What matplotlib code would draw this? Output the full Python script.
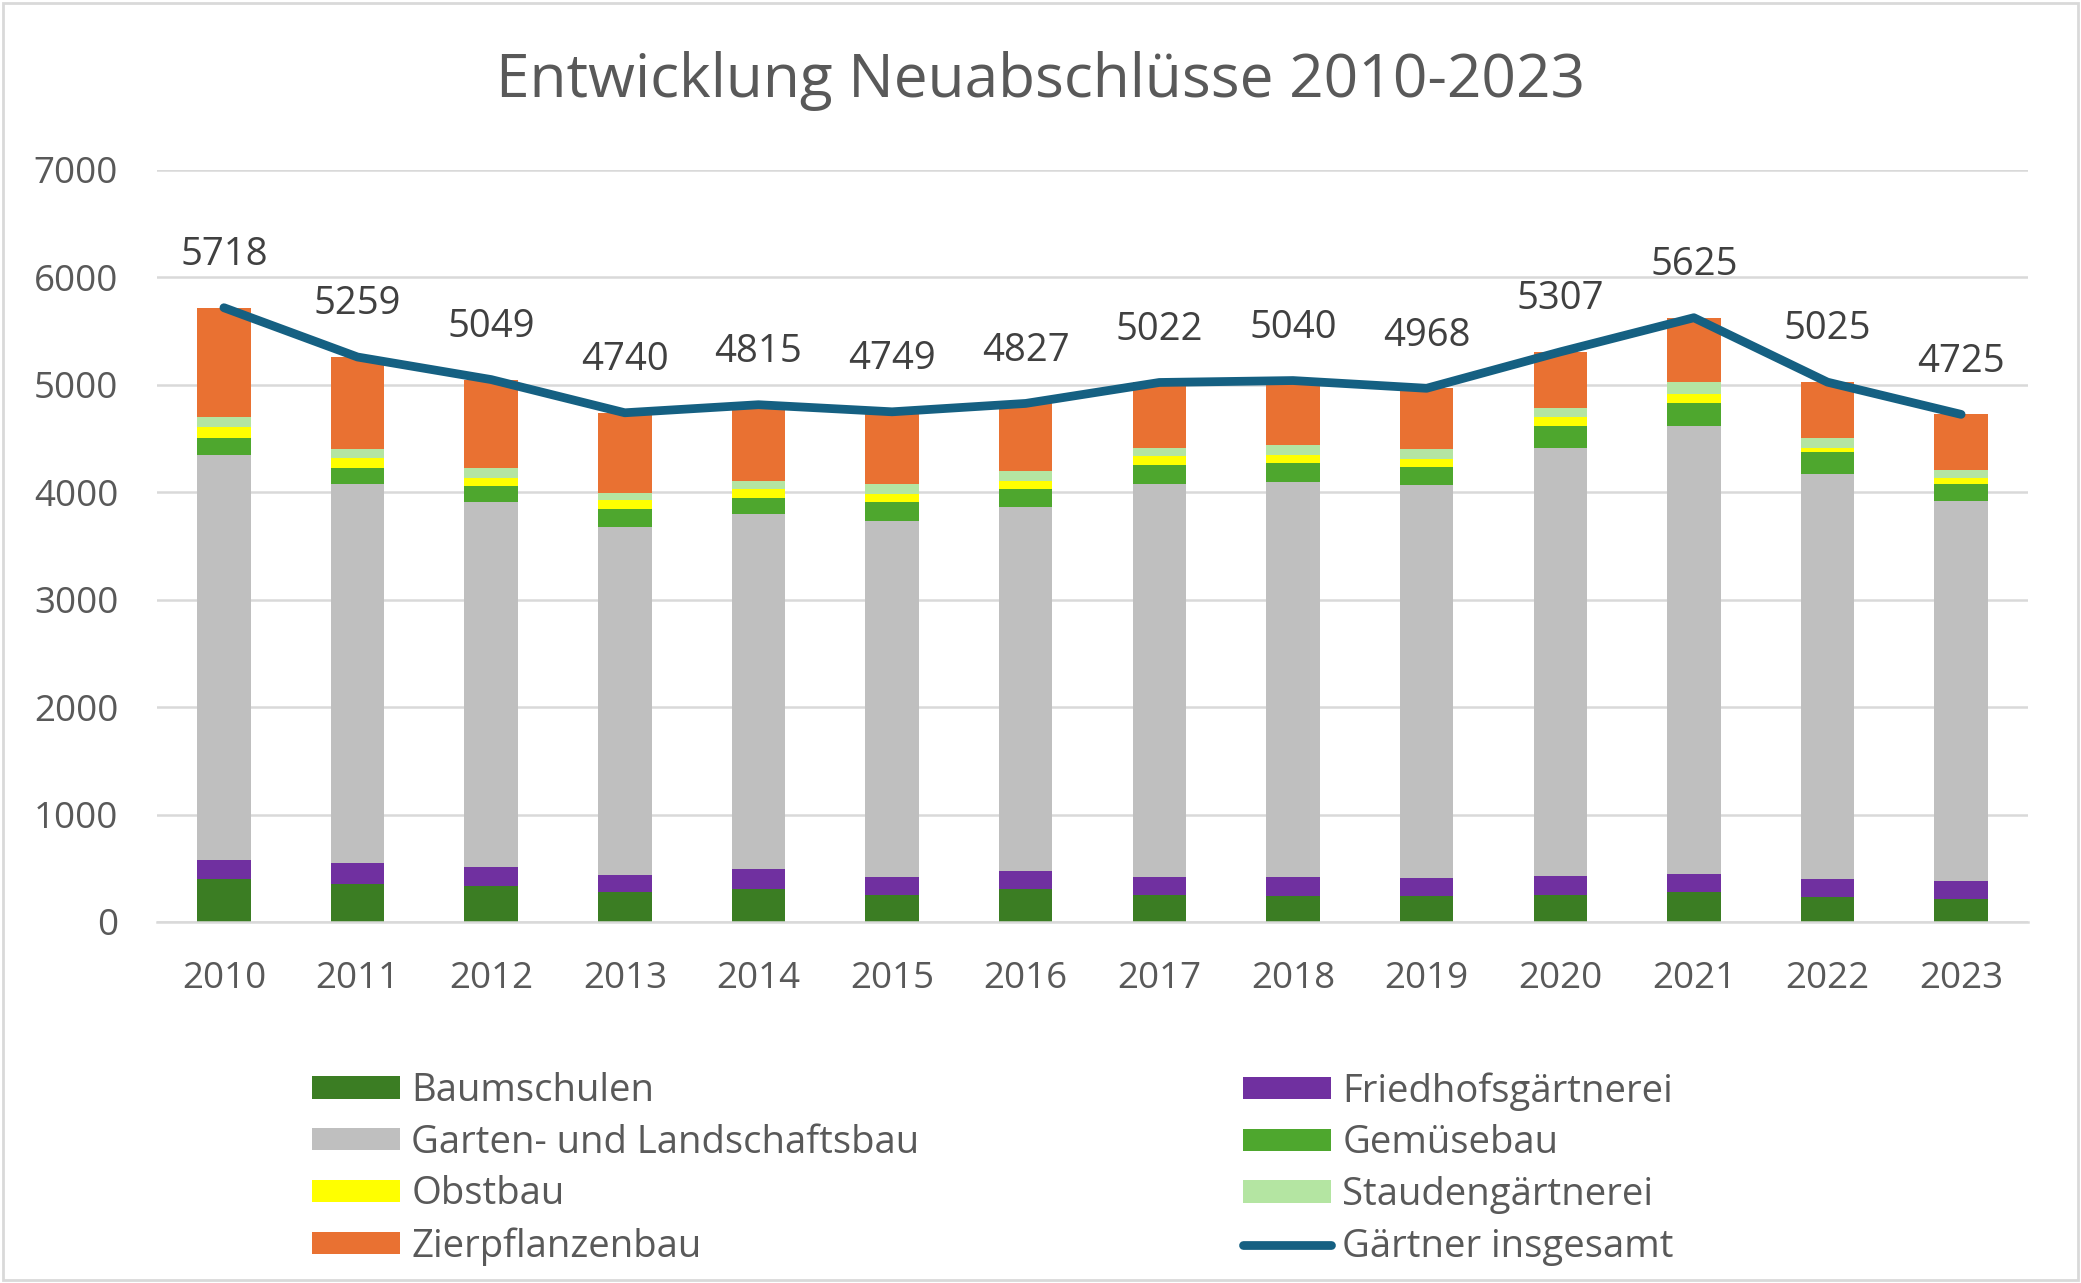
import matplotlib
matplotlib.use("Agg")
import matplotlib.pyplot as plt
import numpy as np
from matplotlib.patches import Rectangle

plt.rcParams['font.family'] = ['Open Sans', 'DejaVu Sans']

# Data
years = ['2010', '2011', '2012', '2013', '2014', '2015', '2016',
         '2017', '2018', '2019', '2020', '2021', '2022', '2023']
baumschulen = [404, 356, 331, 279, 307, 251, 307, 251, 242, 242, 251, 283, 234, 214]
friedhof = [170, 193, 182, 161, 186, 169, 166, 169, 178, 170, 177, 161, 170, 166]
galabau = [3769, 3524, 3394, 3233, 3301, 3317, 3386, 3653, 3673, 3653, 3980, 4170, 3770, 3535]
gemuese = [162, 153, 154, 169, 153, 170, 173, 182, 182, 169, 210, 218, 198, 162]
obstbau = [101, 89, 76, 89, 81, 81, 77, 80, 68, 73, 81, 81, 44, 56]
stauden = [93, 85, 85, 65, 73, 85, 93, 81, 93, 97, 81, 109, 85, 77]
zier = [1019, 859, 827, 744, 714, 676, 625, 606, 604, 564, 527, 603, 524, 515]
gesamt = [5718, 5259, 5049, 4740, 4815, 4749, 4827, 5022, 5040, 4968, 5307, 5625, 5025, 4725]

series = [
    ('Baumschulen', baumschulen, '#3B7D23'),
    ('Friedhofsgärtnerei', friedhof, '#7030A0'),
    ('Garten- und Landschaftsbau', galabau, '#BFBFBF'),
    ('Gemüsebau', gemuese, '#4EA72E'),
    ('Obstbau', obstbau, '#FFFF00'),
    ('Staudengärtnerei', stauden, '#B4E5A2'),
    ('Zierpflanzenbau', zier, '#E97132'),
]

text_col = '#595959'
grid_col = '#D9D9D9'

fig = plt.figure(figsize=(20.81, 12.83), dpi=100)
ax = fig.add_axes([0.0755, 0.2814, 0.899, 0.5861])

x = np.arange(len(years))
bottom = np.zeros(len(years))
handles = {}
for name, vals, col in series:
    b = ax.bar(x, vals, 0.40, bottom=bottom, color=col, label=name, zorder=2)
    handles[name] = b
    bottom += np.array(vals)

line, = ax.plot(x, gesamt, color='#156082', linewidth=6.3, zorder=3,
                solid_capstyle='round', solid_joinstyle='round',
                label='Gärtner insgesamt')

for xi, v in zip(x, gesamt):
    ax.annotate(str(v), (xi, v), xytext=(0, 38), textcoords='offset points',
                ha='center', va='center', fontsize=27.5, color='#404040')

ax.set_xlim(-0.5, len(years) - 0.5)
ax.set_ylim(0, 7000)
ax.set_yticks(range(0, 7001, 1000))
ax.set_xticks(x, labels=years)
ax.yaxis.grid(True, color=grid_col, linewidth=1.8, zorder=0)
ax.set_axisbelow(True)
for s in ['top', 'right', 'left']:
    ax.spines[s].set_visible(False)
ax.spines['bottom'].set_color(grid_col)
ax.spines['bottom'].set_linewidth(1.8)
ax.tick_params(axis='both', length=0, labelsize=26.5, labelcolor=text_col)
ax.tick_params(axis='x', pad=28)
ax.tick_params(axis='y', pad=28)

fig.text(0.5, 0.937, 'Entwicklung Neuabschlüsse 2010-2023', ha='center',
         va='center', fontsize=43.5, color=text_col)

leg_kw = dict(loc='upper left', frameon=False, fontsize=27.5, labelcolor=text_col,
              handlelength=2.3, handleheight=0.52, handletextpad=0.3,
              labelspacing=0.36, borderpad=0, borderaxespad=0)
left_names = ['Baumschulen', 'Garten- und Landschaftsbau', 'Obstbau', 'Zierpflanzenbau']
right_names = ['Friedhofsgärtnerei', 'Gemüsebau', 'Staudengärtnerei']
leg1 = fig.legend([handles[n] for n in left_names], left_names,
                  bbox_to_anchor=(312 / 2081, 1 - 1072 / 1283), **leg_kw)
leg2 = fig.legend([handles[n] for n in right_names] + [line],
                  right_names + ['Gärtner insgesamt'],
                  bbox_to_anchor=(1243 / 2081, 1 - 1072 / 1283), **leg_kw)

fig.patches.append(Rectangle((0.0015, 0.0025), 0.997, 0.995, transform=fig.transFigure,
                             fill=False, edgecolor=grid_col, linewidth=2))

fig.savefig('out.png', dpi=100)
